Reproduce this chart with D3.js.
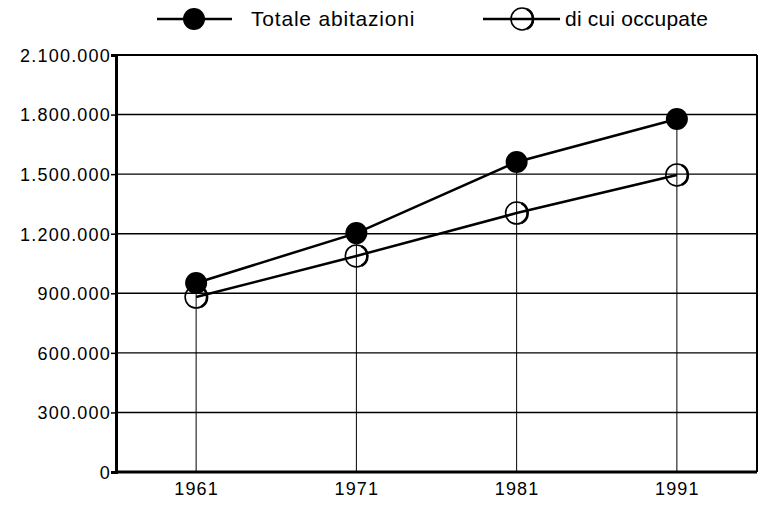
<!DOCTYPE html>
<html>
<head>
<meta charset="utf-8">
<script src="https://cdn.jsdelivr.net/npm/d3@7"></script>
<style>
  body { margin: 0; background: #fff; }
  text { font-family: "Liberation Sans", Arial, sans-serif; fill: #000; }
</style>
</head>
<body>
<div id="chart"></div>
<script>
// data
const years = ["1961", "1971", "1981", "1991"];
const totale = [952000, 1203000, 1561000, 1778000];
const occupate = [881000, 1088000, 1304000, 1496000];
const yTicks = [0, 300000, 600000, 900000, 1200000, 1500000, 1800000, 2100000];
const seriesNames = ["Totale abitazioni", "di cui occupate"];

var width = 761, height = 505;
var margin = { top: 55, right: 4, bottom: 33, left: 116 };
var fs = 18, legFs = 21, ls = "1.2px";

var svg = d3.select("#chart").append("svg")
  .attr("width", width).attr("height", height);

var x = d3.scalePoint().domain(years)
  .range([margin.left, width - margin.right]).padding(0.5);
var y = d3.scaleLinear().domain([0, 2100000])
  .range([height - margin.bottom, margin.top]);

var fmt = d => d3.format(",")(d).replace(/,/g, ".");

// horizontal grid
svg.append("g").selectAll("line").data(yTicks.slice(1, -1)).enter().append("line")
  .attr("x1", margin.left).attr("x2", width - margin.right)
  .attr("y1", d => y(d)).attr("y2", d => y(d))
  .attr("stroke", "#000").attr("stroke-width", 1.4);

// vertical drop lines
svg.append("g").selectAll("line").data(years).enter().append("line")
  .attr("x1", d => x(d)).attr("x2", d => x(d))
  .attr("y1", (d, i) => y(totale[i])).attr("y2", y(0))
  .attr("stroke", "#000").attr("stroke-width", 1);

// frame: top and right thinner
svg.append("line").attr("x1", margin.left).attr("x2", width - margin.right)
  .attr("y1", y(2100000)).attr("y2", y(2100000))
  .attr("stroke", "#000").attr("stroke-width", 2);
svg.append("line").attr("x1", width - margin.right).attr("x2", width - margin.right)
  .attr("y1", y(2100000)).attr("y2", y(0))
  .attr("stroke", "#000").attr("stroke-width", 2);

// y axis
var yAxis = svg.append("g").attr("transform", "translate(" + margin.left + ",0)")
  .call(d3.axisLeft(y).tickValues(yTicks).tickFormat(fmt).tickSize(5).tickPadding(0));
yAxis.attr("font-size", null).attr("font-family", null);
yAxis.select(".domain").attr("stroke-width", 3);
yAxis.selectAll(".tick line").attr("stroke-width", 1.5);
yAxis.selectAll("text").attr("font-size", fs).attr("letter-spacing", ls).attr("dy", "0.35em");

// x axis
var xAxis = svg.append("g").attr("transform", "translate(0," + y(0) + ")")
  .call(d3.axisBottom(x).tickSize(0).tickPadding(10));
xAxis.attr("font-size", null).attr("font-family", null);
xAxis.select(".domain").attr("stroke-width", 3)
  .attr("d", "M" + margin.left + ",0H" + (width - margin.right));
xAxis.selectAll("text").attr("font-size", fs).attr("letter-spacing", ls).attr("dy", "0.71em");

var line = d3.line().x((d, i) => x(years[i])).y(d => y(d));

svg.append("path").datum(occupate).attr("d", line)
  .attr("fill", "none").attr("stroke", "#000").attr("stroke-width", 2.5);
svg.append("path").datum(totale).attr("d", line)
  .attr("fill", "none").attr("stroke", "#000").attr("stroke-width", 2.5);

function openMarker(g, cx, cy) {
  g.append("circle").attr("cx", cx).attr("cy", cy).attr("r", 11)
    .attr("fill", "none").attr("stroke", "#000").attr("stroke-width", 1.6);
  g.append("path")
    .attr("d", "M" + (cx + 5) + "," + (cy - 9.8) + "A11,11 0 0 1 " + (cx + 5) + "," + (cy + 9.8))
    .attr("fill", "none").attr("stroke", "#000").attr("stroke-width", 2.6);
}

var gm = svg.append("g");
occupate.forEach((v, i) => openMarker(gm, x(years[i]), y(v)));
svg.append("g").selectAll("circle").data(totale).enter().append("circle")
  .attr("cx", (d, i) => x(years[i])).attr("cy", d => y(d)).attr("r", 11)
  .attr("fill", "#000");

// legend
var legY = 19;
var leg = svg.append("g");
leg.append("line").attr("x1", 157).attr("x2", 232).attr("y1", legY).attr("y2", legY)
  .attr("stroke", "#000").attr("stroke-width", 2.5);
leg.append("circle").attr("cx", 194).attr("cy", legY).attr("r", 11).attr("fill", "#000");
leg.append("text").attr("x", 251).attr("y", legY).attr("dy", "0.35em")
  .attr("font-size", legFs).attr("letter-spacing", "0.8px").text(seriesNames[0]);

leg.append("line").attr("x1", 483).attr("x2", 560).attr("y1", legY).attr("y2", legY)
  .attr("stroke", "#000").attr("stroke-width", 2.5);
openMarker(leg, 522, legY);
leg.append("text").attr("x", 565).attr("y", legY).attr("dy", "0.35em")
  .attr("font-size", legFs).attr("letter-spacing", "0.2px").text(seriesNames[1]);
</script>
</body>
</html>
